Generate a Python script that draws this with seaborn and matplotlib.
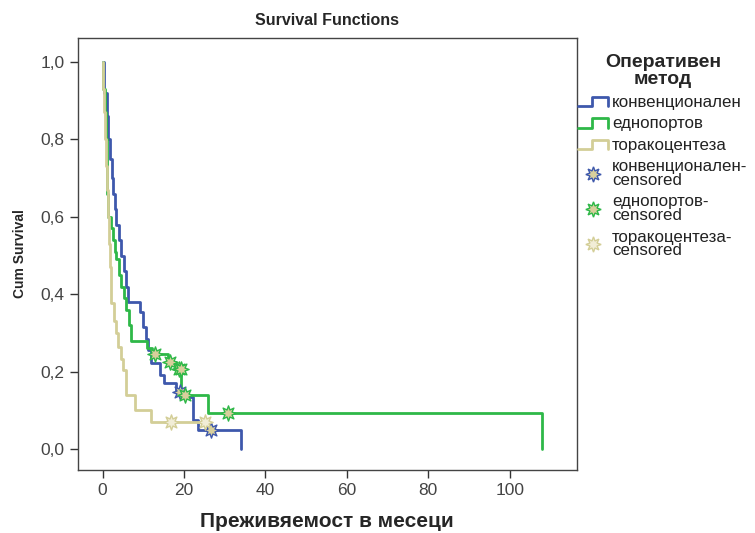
import matplotlib
matplotlib.use("Agg")
import matplotlib.pyplot as plt
from matplotlib.legend_handler import HandlerBase
from matplotlib.lines import Line2D
from matplotlib.ticker import FuncFormatter
import seaborn as sns
import pandas as pd

# Kaplan-Meier step estimates per operative method (time in months, cumulative survival)
conv_time = [0, 0.3, 1.0, 1.4, 1.8, 2.2, 2.5, 3.0, 3.4, 4.0, 4.6, 5.2, 5.8, 6.2, 9.1, 9.9,
             10.6, 11.1, 12.0, 14.0, 15.2, 18.1, 20.6, 22.2, 23.4, 34.1]
conv_surv = [1.0, 0.92, 0.86, 0.80, 0.75, 0.70, 0.66, 0.62, 0.58, 0.54, 0.50, 0.46, 0.42, 0.38, 0.355, 0.316,
             0.285, 0.256, 0.222, 0.191, 0.17, 0.148, 0.135, 0.075, 0.05, 0.0]

single_time = [0, 0.2, 0.5, 0.8, 1.0, 1.2, 1.3, 2.0, 2.5, 3.0, 3.4, 4.0, 4.6, 5.2, 5.8, 6.4, 7.0,
               11.0, 12.2, 16.0, 18.0, 19.3, 25.9, 108.0]
single_surv = [1.0, 0.93, 0.87, 0.80, 0.73, 0.66, 0.60, 0.57, 0.54, 0.51, 0.49, 0.45, 0.42, 0.39, 0.36, 0.32, 0.279,
               0.262, 0.245, 0.226, 0.206, 0.14, 0.094, 0.0]

thora_time = [0, 0.2, 0.4, 0.6, 0.8, 1.0, 1.3, 1.6, 1.8, 2.0, 2.9, 3.4, 3.8, 4.4, 5.0, 5.8, 7.9, 12.0, 25.4]
thora_surv = [1.0, 0.93, 0.87, 0.80, 0.73, 0.67, 0.60, 0.53, 0.47, 0.377, 0.33, 0.30, 0.264, 0.234, 0.204, 0.14, 0.10, 0.071, 0.071]

# Censored observations
conv_cens_time = [18.9, 26.6]
conv_cens_surv = [0.148, 0.05]
single_cens_time = [12.8, 16.6, 18.7, 19.2, 20.2, 30.8]
single_cens_surv = [0.245, 0.226, 0.206, 0.206, 0.14, 0.094]
thora_cens_time = [16.9, 25.2]
thora_cens_surv = [0.071, 0.071]

groups = ["конвенционален", "еднопортов", "торакоцентеза"]
colors = ["#3E58AC", "#2EB848", "#D3CE97"]
cens_face = ["#D8CF9C", "#D8CF9C", "#F1EDD6"]

curves = pd.concat([
    pd.DataFrame({"t": conv_time, "s": conv_surv, "g": groups[0]}),
    pd.DataFrame({"t": single_time, "s": single_surv, "g": groups[1]}),
    pd.DataFrame({"t": thora_time, "s": thora_surv, "g": groups[2]}),
], ignore_index=True)
cens = [(conv_cens_time, conv_cens_surv), (single_cens_time, single_cens_surv),
        (thora_cens_time, thora_cens_surv)]

sns.set_theme(style="white")
plt.rcParams["font.family"] = ["Liberation Sans", "DejaVu Sans"]

fig = plt.figure(figsize=(7.55, 5.33), dpi=100)
ax = fig.add_axes([0.103, 0.118, 0.661, 0.811])

sns.lineplot(data=curves, x="t", y="s", hue="g", palette=dict(zip(groups, colors)),
             estimator=None, sort=False, drawstyle="steps-post", linewidth=2.0,
             legend=False, ax=ax)

star = (8, 1, 0)
for (ct, cs), col, face in zip(cens, colors, cens_face):
    sns.scatterplot(x=ct, y=cs, marker=star, s=120, color=face, edgecolor=col,
                    linewidth=1.0, zorder=5, legend=False, ax=ax)

ax.set_xlim(-6.1, 116.5)
ax.set_ylim(-0.054, 1.062)
ax.set_xticks([0, 20, 40, 60, 80, 100])
ax.set_yticks([0.0, 0.2, 0.4, 0.6, 0.8, 1.0])
ax.yaxis.set_major_formatter(FuncFormatter(lambda v, p: f"{v:.1f}".replace(".", ",")))
ax.tick_params(axis="both", which="major", direction="out", length=6, width=1.0,
               color="#333333", labelsize=12.5, labelcolor="#444444", bottom=True, left=True)
for sp in ax.spines.values():
    sp.set_color("#444444")
    sp.set_linewidth(1.0)

ax.set_title("Survival Functions", fontsize=11.5, fontweight="bold", pad=9)
ax.set_ylabel("Cum Survival", fontsize=10, fontweight="bold", labelpad=10)
ax.set_xlabel("Преживяемост в месеци", fontsize=15, fontweight="bold", labelpad=10)


class StepHandler(HandlerBase):
    def create_artists(self, legend, orig_handle, xdescent, ydescent, width, height,
                       fontsize, trans):
        x0, y0 = -xdescent, -ydescent
        xs = [x0, x0 + 0.45 * width, x0 + 0.45 * width, x0 + width, x0 + width]
        ys = [y0 + 0.05 * height, y0 + 0.05 * height, y0 + 0.85 * height,
              y0 + 0.85 * height, y0 + 0.05 * height]
        ln = Line2D(xs, ys, color=orig_handle.get_color(),
                    linewidth=orig_handle.get_linewidth(), transform=trans)
        return [ln]


handles, labels, hmap = [], [], {}
for g, col in zip(groups, colors):
    h = Line2D([], [], color=col, linewidth=2.0)
    handles.append(h)
    labels.append(g)
    hmap[h] = StepHandler()
for g, col, face in zip(groups, colors, cens_face):
    handles.append(Line2D([], [], linestyle="none", marker=star, markersize=11,
                          markerfacecolor=face, markeredgecolor=col, markeredgewidth=1.0))
    labels.append(g + "-\ncensored")

leg = fig.legend(handles, labels, handler_map=hmap, loc="upper left",
                 bbox_to_anchor=(0.757, 0.912), frameon=False, fontsize=12.2,
                 title="Оперативен\nметод", handlelength=1.75, handletextpad=0.25,
                 labelspacing=0.38, borderaxespad=0.0)
leg.get_title().set_fontsize(14)
leg.get_title().set_fontweight("bold")
leg.get_title().set_multialignment("center")
leg.get_title().set_linespacing(1.05)
for t in leg.get_texts():
    t.set_color("#222222")
    t.set_linespacing(0.9)

fig.savefig("out.png", dpi=100)
